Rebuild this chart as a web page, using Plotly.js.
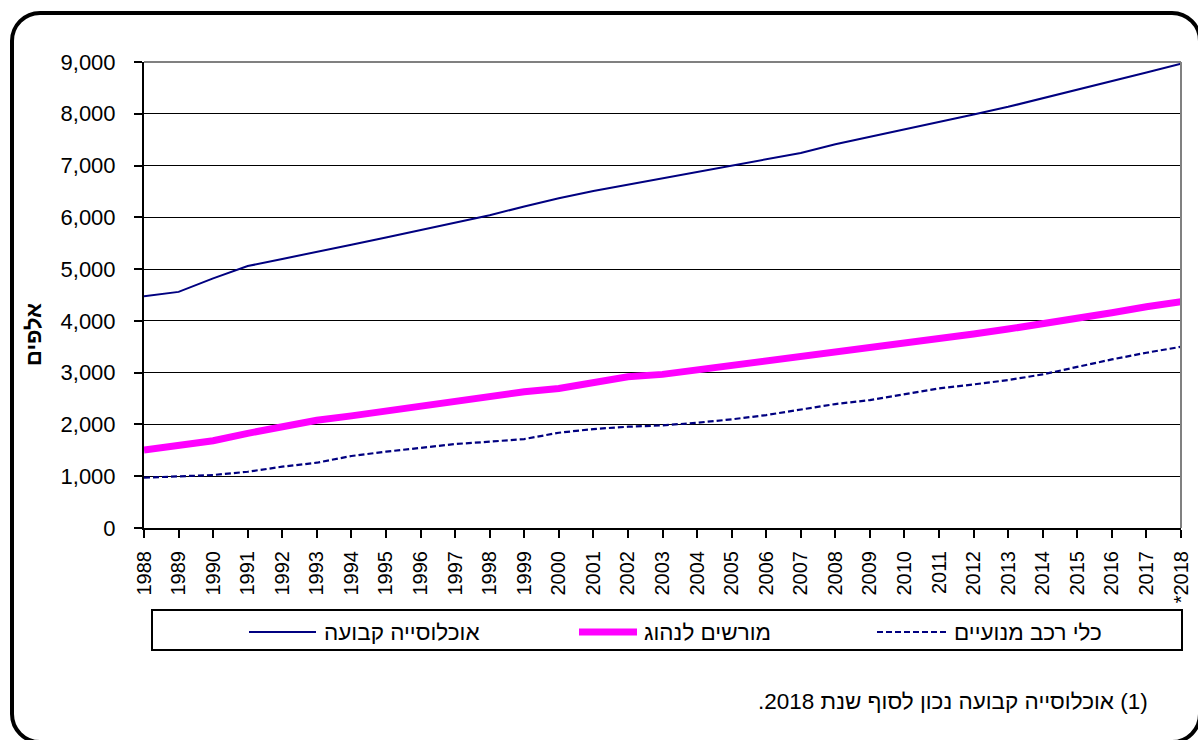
<!DOCTYPE html>
<html>
<head>
<meta charset="utf-8">
<script src="https://cdn.plot.ly/plotly-3.0.1.min.js"></script>
<style>
  html, body { margin: 0; padding: 0; background: #fff; overflow: hidden; }
  #wrap { position: relative; width: 1198px; height: 740px; }
  #chart { position: absolute; left: 0; top: 0; width: 1198px; height: 740px; }
  #frame { position: absolute; left: 10px; top: 11px; width: 1184px; height: 725px;
           border: 4px solid #000; border-radius: 30px; pointer-events: none; }
</style>
</head>
<body>
<div id="wrap"><div id="chart"></div><div id="frame"></div></div>
<script>
// ---- data ----
const years = ['1988','1989','1990','1991','1992','1993','1994','1995','1996','1997',
  '1998','1999','2000','2001','2002','2003','2004','2005','2006','2007',
  '2008','2009','2010','2011','2012','2013','2014','2015','2016','2017','*2018'];
const population = [4477, 4560, 4822, 5059, 5196, 5328, 5472, 5612, 5758, 5900,
  6041, 6209, 6369, 6509, 6631, 6748, 6870, 6991, 7117, 7244,
  7412, 7552, 7695, 7837, 7985, 8134, 8297, 8463, 8629, 8798, 8968];
const drivers = [1506, 1600, 1686, 1828, 1965, 2080, 2165, 2255, 2360, 2432,
  2550, 2630, 2695, 2820, 2920, 2967, 3050, 3140, 3224, 3307,
  3398, 3481, 3565, 3655, 3745, 3842, 3938, 4048, 4157, 4273, 4369];
const vehicles = [971, 990, 1023, 1087, 1184, 1261, 1390, 1474, 1551, 1622,
  1667, 1718, 1840, 1911, 1956, 1982, 2033, 2098, 2181, 2291,
  2394, 2471, 2581, 2696, 2773, 2857, 2967, 3114, 3256, 3385, 3500];
const seriesNames = ['אוכלוסייה קבועה', 'מורשים לנהוג', 'כלי רכב מנועיים'];
const yTitle = 'אלפים';
const footnote = '\u202B(1) אוכלוסייה קבועה נכון לסוף שנת 2018.\u202C';

// ---- layout helpers (pixel -> paper) ----
const W = 1198, H = 740, L = 144, R = 1181, T = 62, B = 528;
const px = x => (x - L) / (R - L);
const py = y => (B - y) / (B - T);
const FONT = 'Liberation Sans, Arial, sans-serif';
const NAVY = '#000080', MAG = '#FF00FF';

const traces = [
  { x: years, y: population, name: seriesNames[0], type: 'scatter', mode: 'lines',
    line: { color: NAVY, width: 2 }, showlegend: false },
  { x: years, y: drivers, name: seriesNames[1], type: 'scatter', mode: 'lines',
    line: { color: MAG, width: 7 }, showlegend: false },
  { x: years, y: vehicles, name: seriesNames[2], type: 'scatter', mode: 'lines',
    line: { color: NAVY, width: 2.2, dash: '6px,3px' }, showlegend: false }
];

const legY = 632;
const shapes = [
  // plot border (top + right) grey
  { type: 'line', xref: 'paper', yref: 'paper', x0: 0, x1: 1, y0: 1, y1: 1,
    line: { color: '#808080', width: 2 }, layer: 'above' },
  { type: 'line', xref: 'paper', yref: 'paper', x0: 1, x1: 1, y0: 0, y1: 1,
    line: { color: '#808080', width: 2 }, layer: 'above' },
  // legend box
  { type: 'rect', xref: 'paper', yref: 'paper', x0: px(152), x1: px(1182), y0: py(610), y1: py(650),
    line: { color: '#000', width: 2 } },
  // legend samples
  { type: 'line', xref: 'paper', yref: 'paper', x0: px(249), x1: px(316), y0: py(legY), y1: py(legY),
    line: { color: NAVY, width: 2 } },
  { type: 'line', xref: 'paper', yref: 'paper', x0: px(579), x1: px(637), y0: py(legY), y1: py(legY),
    line: { color: MAG, width: 7 } },
  { type: 'line', xref: 'paper', yref: 'paper', x0: px(877), x1: px(948), y0: py(legY), y1: py(legY),
    line: { color: NAVY, width: 2, dash: '6px,3px' } }
];

const annotations = [
  { text: seriesNames[0], xref: 'paper', yref: 'paper', x: px(322), y: py(legY), xanchor: 'left', yanchor: 'middle',
    showarrow: false, font: { family: FONT, size: 22.5, color: '#000' } },
  { text: seriesNames[1], xref: 'paper', yref: 'paper', x: px(642), y: py(legY), xanchor: 'left', yanchor: 'middle',
    showarrow: false, font: { family: FONT, size: 22.5, color: '#000' } },
  { text: seriesNames[2], xref: 'paper', yref: 'paper', x: px(952), y: py(legY), xanchor: 'left', yanchor: 'middle',
    showarrow: false, font: { family: FONT, size: 22.5, color: '#000' } },
  { text: '<b>' + yTitle + '</b>', xref: 'paper', yref: 'paper', x: px(33), y: py(335), xanchor: 'center', yanchor: 'middle',
    textangle: -90, showarrow: false, font: { family: FONT, size: 22, color: '#000' } },
  { text: footnote, xref: 'paper', yref: 'paper', x: px(1150), y: py(701), xanchor: 'right', yanchor: 'middle',
    showarrow: false, font: { family: FONT, size: 22.5, color: '#000' } }
];

const layout = {
  width: W, height: H,
  margin: { l: L, r: W - R, t: T, b: H - B, pad: 0 },
  paper_bgcolor: '#fff', plot_bgcolor: '#fff',
  font: { family: FONT, color: '#000' },
  showlegend: false,
  xaxis: {
    type: 'category', range: [0, years.length - 1], fixedrange: true,
    showgrid: false, zeroline: false,
    showline: true, linecolor: '#000', linewidth: 2,
    ticks: 'outside', ticklen: 8, tickwidth: 2, tickcolor: '#000',
    tickangle: -90, tickfont: { family: FONT, size: 20, color: '#000' },
    ticklabelstandoff: 5
  },
  yaxis: {
    range: [0, 9000], dtick: 1000, tick0: 0, tickformat: ',.0f', fixedrange: true,
    showgrid: true, gridcolor: '#000', gridwidth: 1, zeroline: false,
    showline: true, linecolor: '#000', linewidth: 2,
    ticks: 'outside', ticklen: 8, tickwidth: 2, tickcolor: '#000',
    tickfont: { family: FONT, size: 22, color: '#000' },
    ticklabelstandoff: 14
  },
  shapes: shapes,
  annotations: annotations
};

Plotly.newPlot('chart', traces, layout, { staticPlot: true, displayModeBar: false });
</script>
</body>
</html>
